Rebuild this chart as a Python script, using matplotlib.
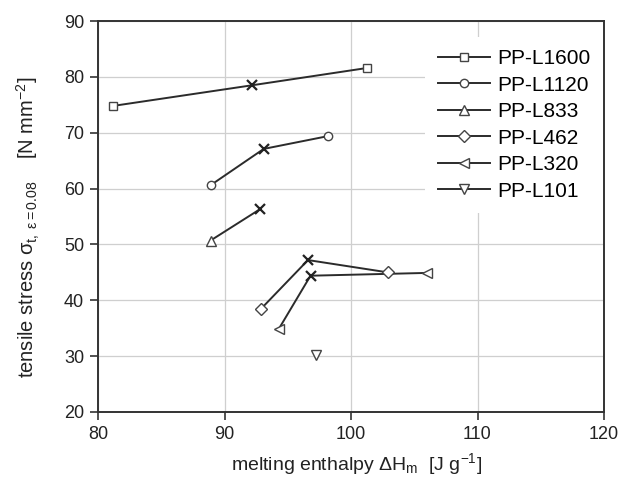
import matplotlib
matplotlib.use("Agg")
import matplotlib.pyplot as plt
from matplotlib.lines import Line2D

plt.rcParams['font.family'] = ['Liberation Sans', 'DejaVu Sans']
plt.rcParams['mathtext.fontset'] = 'custom'
plt.rcParams['mathtext.rm'] = 'Liberation Sans'
plt.rcParams['mathtext.it'] = 'Liberation Sans:italic'

labels = ["PP-L1600", "PP-L1120", "PP-L833", "PP-L462", "PP-L320", "PP-L101"]
markers = ["s", "o", "^", "D", "<", "v"]
msizes = [6, 6, 7, 6, 7, 7]

# melting enthalpy (J/g) and tensile stress (N/mm^2): start, mid (x), end
enthalpy = [
    [81.2, 92.2, 101.3],
    [88.9, 93.1, 98.2],
    [88.9, 92.8],
    [92.9, 96.6, 102.9],
    [94.3, 96.8, 106.0],
    [97.2],
]
stress = [
    [74.8, 78.5, 81.6],
    [60.6, 67.1, 69.4],
    [50.7, 56.3],
    [38.5, 47.2, 45.0],
    [34.9, 44.4, 44.9],
    [30.2],
]

fig = plt.figure(figsize=(6.2, 4.87), dpi=100)
ax = fig.add_axes([98/620, 1-412/487, (604-98)/620, (412-21)/487])

lc = '#2b2b2b'
for xs, ys, m, ms in zip(enthalpy, stress, markers, msizes):
    if len(xs) > 1:
        ax.plot(xs, ys, '-', color=lc, lw=1.4, zorder=3)
    if len(xs) == 3:
        idx = [0, 2]
        mid = [1]
    elif len(xs) == 2:
        idx = [0]
        mid = [1]
    else:
        idx = [0]
        mid = []
    ax.plot([xs[i] for i in idx], [ys[i] for i in idx], linestyle='none', marker=m,
            ms=ms, mfc='white', mec='#444444', mew=1.0, zorder=4)
    if mid:
        ax.plot([xs[i] for i in mid], [ys[i] for i in mid], linestyle='none', marker='x',
                ms=7, mec='#222222', mew=1.6, zorder=5)

ax.set_xlim(80, 120)
ax.set_ylim(20, 90)
ax.set_xticks([80, 90, 100, 110, 120])
ax.set_yticks([20, 30, 40, 50, 60, 70, 80, 90])
ax.grid(True, color='#cfcfcf', lw=0.9)
ax.set_axisbelow(True)
for s in ax.spines.values():
    s.set_color('#333333')
    s.set_linewidth(1.4)
ax.tick_params(direction='out', length=6, width=1.2, color='#333333',
               labelsize=13, labelcolor='#222222', pad=4)

ax.set_xlabel(r"melting enthalpy $\Delta$H$_\mathrm{m}$  [J g$^{\mathrm{-1}}$]",
              fontsize=14, color='#222222')
ax.set_ylabel(r"tensile stress σ$_{\mathrm{t,\ ε=0.08}}$    [N mm$^{\mathrm{-2}}$]",
              fontsize=14.5, color='#222222')
ax.xaxis.set_label_coords(0.51, -0.1)
ax.yaxis.set_label_coords(-0.11, 0.473)

handles = [Line2D([], [], color=lc, lw=1.4, marker=m, ms=ms, mfc='white',
                  mec='#444444', mew=1.0) for m, ms in zip(markers, msizes)]
leg = ax.legend(handles, labels, loc='upper left', bbox_to_anchor=(0.647, 0.96),
                frameon=True, fancybox=False, framealpha=1, facecolor='white',
                edgecolor='none', fontsize=15, handlelength=2.5, handletextpad=0.34,
                labelspacing=0.36, borderpad=0.6, borderaxespad=0)
leg.set_zorder(6)

fig.savefig("out.png", dpi=100)
